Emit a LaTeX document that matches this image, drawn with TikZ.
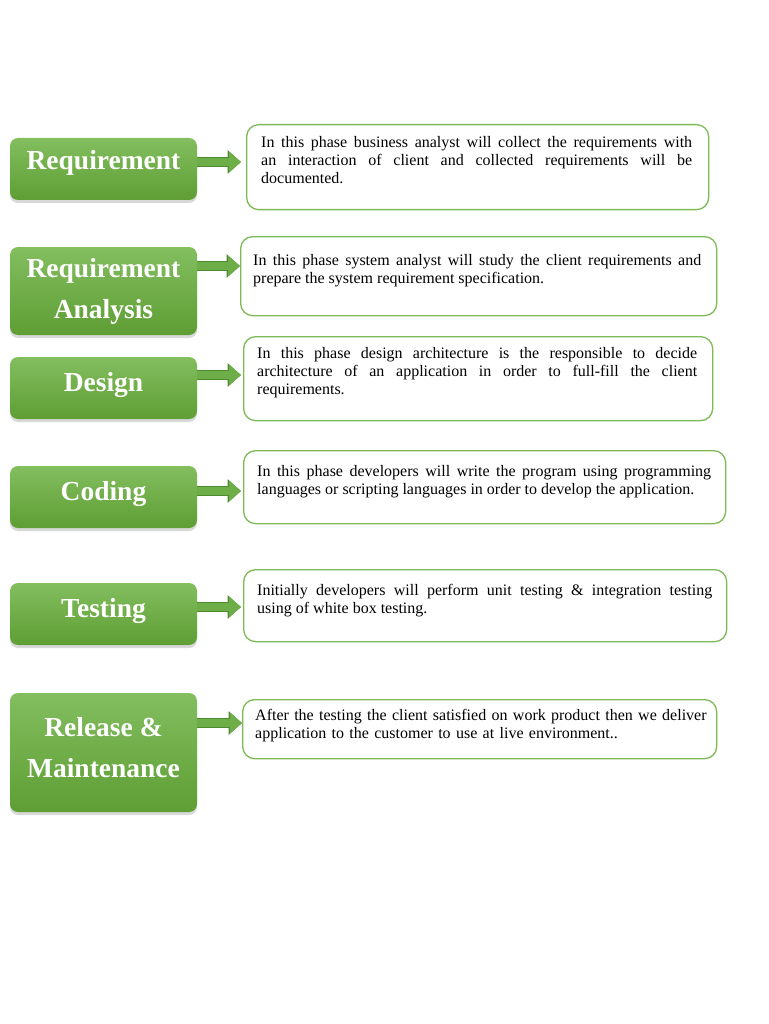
\documentclass[tikz,border=0pt]{standalone}
\usepackage{fontspec}
\setmainfont{Liberation Serif}
\usetikzlibrary{positioning,calc,shadows,arrows.meta}

\definecolor{stagetop}{RGB}{131,190,95}
\definecolor{stagebottom}{RGB}{94,158,52}
\definecolor{noteline}{RGB}{125,186,85}
\definecolor{arrowfill}{RGB}{109,174,72}
\definecolor{arrowline}{RGB}{78,138,46}

\hyphenpenalty=10000
\exhyphenpenalty=10000
\tolerance=9999

\begin{document}
\begin{tikzpicture}[
        x=1pt, y=-1pt, % pixel grid of the page, y downwards
        stagebox/.style={rounded corners=8pt, top color=stagetop, bottom color=stagebottom,
            text=white, minimum width=187pt, align=center,
            font=\fontsize{27.5}{41}\selectfont\bfseries,
            drop shadow={shadow xshift=0pt, shadow yshift=-3pt, opacity=0.3}},
        oneline/.style={text height=18.5pt, text depth=12pt},
        notebox/.style={draw=noteline, line width=1.3pt, rounded corners=12pt, anchor=north west, inner sep=0pt},
        notetext/.style={inner sep=0pt, align=justify, font=\fontsize{16}{18}\selectfont},
        flow/.style={arrowfill, line width=8pt, -{Triangle[length=12pt,width=20pt]},
            preaction={draw=arrowline, line width=10pt, -{Triangle[length=13.5pt,width=23pt]}}},
    ]
    \fill[white] (0,0) rectangle (768,1024);
    \useasboundingbox (0,0) rectangle (768,1024);

    % phases
    \node[stagebox, minimum height=62pt, text height=18.5pt, text depth=18pt] (g1) at (103.5,169) {Requirement};
    \node[stagebox, minimum height=88pt] (g2) at (103.5,291) {Requirement\\Analysis};
    \node[stagebox, oneline, minimum height=62pt] (g3) at (103.5,388) {Design};
    \node[stagebox, oneline, minimum height=62pt] (g4) at (103.5,497) {Coding};
    \node[stagebox, oneline, minimum height=62pt] (g5) at (103.5,614) {Testing};
    \node[stagebox, minimum height=119pt] (g6) at (103.5,752.5) {Release \&\\Maintenance\rule[-11pt]{0pt}{11pt}};

    % descriptions
    \node[notebox, minimum width=462pt, minimum height=85pt] (t1) at (246,124) {};
    \node[notetext, text width=431pt, below right=12.2pt and 15pt of t1.north west] (d1)
        {In this phase business analyst will collect the requirements with\linebreak
         an interaction of client and collected requirements will be\linebreak
         documented.};

    \node[notebox, minimum width=476pt, minimum height=79pt] (t2) at (240,236) {};
    \node[notetext, text width=448pt, below right=18.6pt and 13pt of t2.north west] (d2)
        {In this phase system analyst will study the client requirements and\linebreak
         prepare the system requirement specification.};

    \node[notebox, minimum width=469pt, minimum height=84pt] (t3) at (243,336) {};
    \node[notetext, text width=440pt, below right=11.6pt and 14pt of t3.north west] (d3)
        {In this phase design architecture is the responsible to decide\linebreak
         architecture of an application in order to full-fill the client\linebreak
         requirements.};

    \node[notebox, minimum width=482pt, minimum height=73pt] (t4) at (243,450) {};
    \node[notetext, text width=454pt, below right=15.6pt and 14pt of t4.north west] (d4)
        {In this phase developers will write the program using programming\linebreak
         languages or scripting languages in order to develop the application.};

    \node[notebox, minimum width=483pt, minimum height=72pt] (t5) at (243,569) {};
    \node[notetext, text width=455pt, below right=14.6pt and 14pt of t5.north west] (d5)
        {Initially developers will perform unit testing \& integration testing\linebreak
         using of white box testing.};

    \node[notebox, minimum width=474pt, minimum height=59pt] (t6) at (242,699) {};
    \node[notetext, text width=460pt, align=left, below right=9.6pt and 13pt of t6.north west] (d6)
        {After the testing the client satisfied on work product then we deliver\\
         application to the customer to use at live environment..};

    % arrows
    \coordinate (a1) at ($(g1.east)+(0,-7)$);
    \coordinate (a2) at ($(g2.east)+(0,-25)$);
    \coordinate (a3) at ($(g3.east)+(0,-13)$);
    \coordinate (a4) at ($(g4.east)+(0,-6)$);
    \coordinate (a5) at ($(g5.east)+(0,-7)$);
    \coordinate (a6) at ($(g6.east)+(0,-29.5)$);
    \draw[flow, shorten >=5pt] (a1) -- (a1 -| t1.west);
    \draw[flow] (a2) -- (a2 -| t2.west);
    \draw[flow, shorten >=2pt] (a3) -- (a3 -| t3.west);
    \draw[flow, shorten >=2pt] (a4) -- (a4 -| t4.west);
    \draw[flow, shorten >=2pt] (a5) -- (a5 -| t5.west);
    \draw[flow] (a6) -- (a6 -| t6.west);
\end{tikzpicture}
\end{document}
